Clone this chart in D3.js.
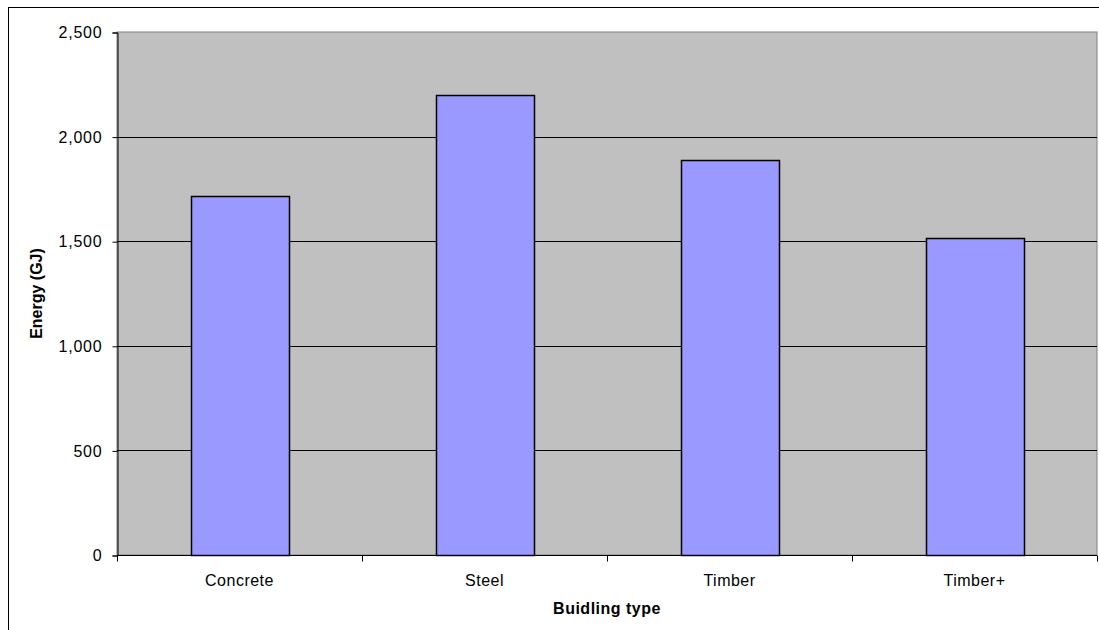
<!DOCTYPE html>
<html>
<head>
<meta charset="utf-8">
<script src="https://cdn.jsdelivr.net/npm/d3@7"></script>
<style>
  html, body { margin: 0; padding: 0; background: #ffffff; }
  svg { display: block; font-family: "Liberation Sans", Arial, sans-serif; }
</style>
</head>
<body>
<svg id="chart" width="1099" height="630"></svg>
<script>
// Embodied energy by building type
const categories = ["Concrete", "Steel", "Timber", "Timber+"];
const energyGJ = [1715, 2200, 1887, 1515];
const yTicks = [0, 500, 1000, 1500, 2000, 2500];
const xTitle = "Buidling type";
const yTitle = "Energy (GJ)";

const svg = d3.select("#chart");
const W = 1099, H = 630;
const plot = { left: 117, top: 32, right: 1097, bottom: 555 };

// outer chart frame
svg.append("rect")
  .attr("x", 8.5).attr("y", 7.5)
  .attr("width", W).attr("height", H)
  .attr("fill", "none").attr("stroke", "#000").attr("stroke-width", 1);

const x = d3.scaleBand()
  .domain(categories)
  .range([plot.left, plot.right])
  .paddingInner(0.6)
  .paddingOuter(0.3);

const xBound = d3.scaleBand().domain(categories).range([plot.left, plot.right]);

const y = d3.scaleLinear().domain([0, 2500]).range([plot.bottom, plot.top]);

// plot area background
svg.append("rect")
  .attr("x", plot.left).attr("y", plot.top)
  .attr("width", plot.right - plot.left)
  .attr("height", plot.bottom - plot.top)
  .attr("fill", "#c0c0c0")
  .attr("stroke", "#808080").attr("stroke-width", 1);

// horizontal gridlines
svg.append("g")
  .selectAll("line")
  .data(yTicks.filter(t => t > 0 && t < 2500))
  .join("line")
  .attr("x1", plot.left).attr("x2", plot.right)
  .attr("y1", d => Math.round(y(d)) + 0.5)
  .attr("y2", d => Math.round(y(d)) + 0.5)
  .attr("stroke", "#000").attr("stroke-width", 1);

// bars
svg.append("g")
  .selectAll("rect")
  .data(categories)
  .join("rect")
  .attr("x", d => Math.round(x(d)) + 0.5)
  .attr("y", (d, i) => Math.round(y(energyGJ[i])) + 0.5)
  .attr("width", Math.round(x.bandwidth()))
  .attr("height", (d, i) => Math.round(y(0)) - Math.round(y(energyGJ[i])))
  .attr("fill", "#9999ff")
  .attr("stroke", "#000").attr("stroke-width", 1.5);

// y axis
const yAxis = d3.axisLeft(y)
  .tickValues(yTicks)
  .tickSize(5)
  .tickPadding(10)
  .tickFormat(d3.format(","));
const gy = svg.append("g")
  .attr("transform", `translate(${plot.left + 0.5},0.5)`)
  .call(yAxis);
gy.select(".domain").attr("stroke", "#000");
gy.selectAll(".tick line").attr("stroke", "#000");
gy.selectAll(".tick text")
  .attr("font-size", 16).attr("fill", "#000")
  .attr("letter-spacing", 0.8)
  .attr("font-family", "Liberation Sans, Arial, sans-serif");

// x axis: ticks between categories
const boundaries = categories.map(c => xBound(c)).concat([plot.right]);
const gx = svg.append("g").attr("transform", `translate(0,${plot.bottom + 0.5})`);
gx.append("line")
  .attr("x1", plot.left).attr("x2", plot.right)
  .attr("y1", 0).attr("y2", 0)
  .attr("stroke", "#000");
gx.selectAll("line.tk")
  .data(boundaries)
  .join("line")
  .attr("class", "tk")
  .attr("x1", d => Math.round(d) + 0.5).attr("x2", d => Math.round(d) + 0.5)
  .attr("y1", 0).attr("y2", 6)
  .attr("stroke", "#000");
gx.selectAll("text")
  .data(categories)
  .join("text")
  .attr("x", d => xBound(d) + xBound.bandwidth() / 2)
  .attr("y", 30)
  .attr("text-anchor", "middle")
  .attr("font-size", 16)
  .attr("letter-spacing", 0.5)
  .attr("fill", "#000")
  .text(d => d);

// axis titles
svg.append("text")
  .attr("x", (plot.left + plot.right) / 2)
  .attr("y", 614)
  .attr("text-anchor", "middle")
  .attr("font-size", 16)
  .attr("font-weight", "bold")
  .attr("letter-spacing", 0.5)
  .text(xTitle);

svg.append("text")
  .attr("transform", `translate(42,${(plot.top + plot.bottom) / 2}) rotate(-90)`)
  .attr("text-anchor", "middle")
  .attr("font-size", 16)
  .attr("font-weight", "bold")
  .text(yTitle);
</script>
</body>
</html>
